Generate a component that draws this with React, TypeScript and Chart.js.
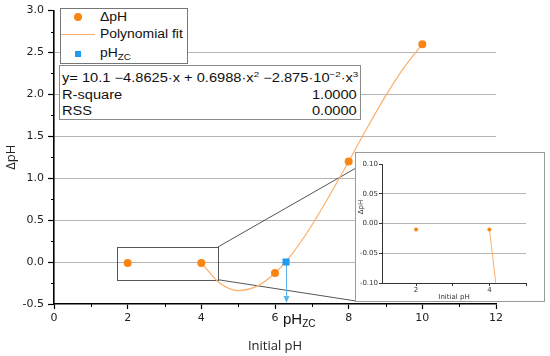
import React, { useEffect, useRef } from 'react';
import { Chart, registerables } from 'chart.js';

Chart.register(...registerables);

// ---- data ----
const initialPH = [2, 4, 6, 8, 10];
const deltaPH = [-0.01, -0.01, -0.13, 1.2, 2.6];
const fitX = [4, 4.5, 5, 5.5, 6, 6.5, 7, 7.5, 8, 8.5, 9, 9.5, 10];
const fitY = [-0.01, -0.25, -0.34, -0.29, -0.13, 0.12, 0.44, 0.81, 1.2, 1.6, 1.98, 2.32, 2.6];
const pHzcX = [6.3];
const pHzcY = [0];

const xMinorTicks = [1, 3, 5, 7, 9, 11];
const yMinorTicks = [-0.25, 0.25, 0.75, 1.25, 1.75, 2.25, 2.75];
const insetXTicks = [2, 3, 4, 5];
const insetXLabels = [2, 4];

const zoomBoxX = [1.7, 4.45];
const zoomBoxY = [-0.21, 0.18];

const legendLabels = ['ΔpH', 'Polynomial fit', 'pH'];
const eqStatLabels = ['R-square', 'RSS'];
const eqStatValues = ['1.0000', '0.0000'];

// ---- styles ----
const ORANGE = '#f98515';
const FIT = '#fbb06c';
const BLUE = '#1f9cf0';
const ARROW = '#5db6f0';
const GRID = '#b5b5b5';
const INSET = { left: 355, top: 152, width: 190, height: 150 };

const tickFont = { family: '"DejaVu Sans", Verdana, sans-serif', size: 11 };
const titleFont = { family: '"Open Sans", "DejaVu Sans", sans-serif', size: 13 };
const smallFont = { family: '"DejaVu Sans", Verdana, sans-serif', size: 7 };

const pts = (xs: number[], ys: number[]) => xs.map((x, i) => ({ x, y: ys[i] }));

const minorTicksPlugin = (xs: number[], ys: number[], len: number, color: string) => ({
  id: 'minorTicks',
  afterDraw(chart: any) {
    const { ctx, chartArea, scales } = chart;
    ctx.save();
    ctx.strokeStyle = color;
    ctx.lineWidth = 1;
    ctx.beginPath();
    xs.forEach((v) => {
      const px = Math.round(scales.x.getPixelForValue(v)) + 0.5;
      ctx.moveTo(px, chartArea.bottom);
      ctx.lineTo(px, chartArea.bottom + len);
    });
    ys.forEach((v) => {
      const py = Math.round(scales.y.getPixelForValue(v)) + 0.5;
      ctx.moveTo(chartArea.left - len, py);
      ctx.lineTo(chartArea.left, py);
    });
    ctx.stroke();
    ctx.restore();
  },
});

const mainOverlay = {
  id: 'mainOverlay',
  beforeDatasetsDraw(chart: any) {
    const { ctx, chartArea, scales } = chart;
    const x0 = scales.x.getPixelForValue(zoomBoxX[0]);
    const x1 = scales.x.getPixelForValue(zoomBoxX[1]);
    const yT = scales.y.getPixelForValue(zoomBoxY[1]);
    const yB = scales.y.getPixelForValue(zoomBoxY[0]);
    ctx.save();
    ctx.strokeStyle = '#555';
    ctx.lineWidth = 1;
    ctx.strokeRect(Math.round(x0) + 0.5, Math.round(yT) + 0.5, Math.round(x1 - x0), Math.round(yB - yT));
    ctx.beginPath();
    ctx.moveTo(x1, yT);
    ctx.lineTo(INSET.left + 1, INSET.top + 16);
    ctx.moveTo(x1, yB);
    ctx.lineTo(INSET.left + 1, INSET.top + INSET.height - 1);
    ctx.stroke();
    // arrow from pHzc to axis
    const ax = Math.round(scales.x.getPixelForValue(pHzcX[0])) + 0.5;
    const ay = scales.y.getPixelForValue(pHzcY[0]);
    const tip = chartArea.bottom - 1;
    ctx.strokeStyle = ARROW;
    ctx.fillStyle = ARROW;
    ctx.beginPath();
    ctx.moveTo(ax, ay);
    ctx.lineTo(ax, tip - 5);
    ctx.stroke();
    ctx.beginPath();
    ctx.moveTo(ax - 3, tip - 7);
    ctx.lineTo(ax + 3, tip - 7);
    ctx.lineTo(ax, tip);
    ctx.closePath();
    ctx.fill();
    ctx.restore();
  },
};

const insetOverlay = {
  id: 'insetOverlay',
  afterDraw(chart: any) {
    const { ctx } = chart;
    ctx.save();
    ctx.translate(5, 54);
    ctx.rotate(-Math.PI / 2);
    ctx.font = `7px ${smallFont.family}`;
    ctx.fillStyle = '#333';
    ctx.textAlign = 'center';
    ctx.textBaseline = 'middle';
    ctx.fillText('ΔpH', 0, 0);
    ctx.restore();
  },
};

export default function App() {
  const mainRef = useRef<HTMLCanvasElement>(null);
  const insetRef = useRef<HTMLCanvasElement>(null);

  useEffect(() => {
    const main = new Chart(mainRef.current as HTMLCanvasElement, {
      type: 'scatter',
      data: {
        datasets: [
          {
            label: legendLabels[1],
            data: pts(fitX, fitY),
            showLine: true,
            borderColor: FIT,
            borderWidth: 1.2,
            pointRadius: 0,
            cubicInterpolationMode: 'monotone',
            order: 3,
          } as any,
          {
            label: legendLabels[0],
            data: pts(initialPH, deltaPH),
            pointRadius: 4,
            backgroundColor: ORANGE,
            borderColor: ORANGE,
            borderWidth: 0,
            order: 1,
          },
          {
            label: legendLabels[2],
            data: pts(pHzcX, pHzcY),
            pointStyle: 'rect',
            pointRadius: 5,
            backgroundColor: BLUE,
            borderColor: BLUE,
            borderWidth: 0,
            order: 0,
          },
        ],
      },
      options: {
        responsive: false,
        animation: false,
        layout: { padding: { top: 10, right: 54, left: 0, bottom: 0 } },
        plugins: { legend: { display: false }, tooltip: { enabled: false } },
        scales: {
          x: {
            type: 'linear',
            min: 0,
            max: 12,
            afterFit: (s: any) => { s.height = 52; },
            ticks: { stepSize: 2, font: tickFont, color: '#222', padding: 3 },
            grid: { drawOnChartArea: false, tickLength: 5, tickColor: '#000', tickWidth: 1.2 },
            border: { color: '#000', width: 1.6 },
            title: { display: true, text: 'Initial pH', font: titleFont, color: '#222', padding: { top: 0, bottom: 2 } },
          },
          y: {
            type: 'linear',
            min: -0.5,
            max: 3,
            afterFit: (s: any) => { s.width = 54; },
            ticks: { stepSize: 0.5, font: tickFont, color: '#222', padding: 4, callback: (v: any) => Number(v).toFixed(1) },
            grid: {
              color: (c: any) => (c.tick && c.tick.value > -0.4 && c.tick.value < 2.9 ? GRID : 'rgba(0,0,0,0)'),
              lineWidth: 1,
              tickLength: 6,
              tickColor: '#000',
              tickWidth: 1.2,
            },
            border: { color: '#000', width: 1.6 },
            title: { display: true, text: 'ΔpH', font: titleFont, color: '#222', padding: { top: 3, bottom: 0 } },
          },
        },
      },
      plugins: [mainOverlay, minorTicksPlugin(xMinorTicks, yMinorTicks, 3, '#000')],
    });

    const inset = new Chart(insetRef.current as HTMLCanvasElement, {
      type: 'scatter',
      data: {
        datasets: [
          {
            label: legendLabels[1],
            data: pts(fitX, fitY),
            showLine: true,
            borderColor: FIT,
            borderWidth: 1,
            pointRadius: 0,
            cubicInterpolationMode: 'monotone',
            order: 2,
          } as any,
          {
            label: legendLabels[0],
            data: pts(initialPH, deltaPH),
            pointRadius: 2,
            backgroundColor: ORANGE,
            borderColor: ORANGE,
            borderWidth: 0,
            order: 1,
          },
        ],
      },
      options: {
        responsive: false,
        animation: false,
        layout: { padding: { top: 11, right: 18, left: 0, bottom: 0 } },
        plugins: { legend: { display: false }, tooltip: { enabled: false } },
        scales: {
          x: {
            type: 'linear',
            min: 1.07,
            max: 5,
            afterFit: (s: any) => { s.height = 18; },
            afterBuildTicks: (s: any) => { s.ticks = insetXTicks.map((v) => ({ value: v })); },
            ticks: {
              font: smallFont,
              color: '#333',
              padding: 0,
              autoSkip: false,
              maxRotation: 0,
              callback: (v: any) => (insetXLabels.includes(Number(v)) ? String(v) : ''),
            },
            grid: { drawOnChartArea: false, tickLength: 3, tickColor: '#333' },
            border: { color: '#333', width: 1 },
            title: { display: true, text: 'Initial pH', font: smallFont, color: '#333', padding: { top: 0, bottom: 0 } },
          },
          y: {
            type: 'linear',
            min: -0.1,
            max: 0.1,
            afterFit: (s: any) => { s.width = 26; },
            ticks: { stepSize: 0.05, font: smallFont, color: '#333', padding: 1, callback: (v: any) => Number(v).toFixed(2) },
            grid: {
              color: (c: any) => (c.tick && Math.abs(c.tick.value) < 0.09 ? GRID : 'rgba(0,0,0,0)'),
              tickLength: 3,
              tickColor: '#333',
            },
            border: { color: '#333', width: 1 },
          },
        },
      },
      plugins: [insetOverlay],
    });

    return () => {
      main.destroy();
      inset.destroy();
    };
  }, []);

  const legendText: React.CSSProperties = {
    position: 'absolute',
    left: 39,
    font: '12px "Liberation Sans", Arial, sans-serif',
    lineHeight: '14px',
    color: '#111',
    whiteSpace: 'nowrap',
    transform: 'scaleX(1.16)',
    transformOrigin: 'left center',
  };
  const eqText: React.CSSProperties = {
    position: 'absolute',
    font: '12px "Liberation Sans", Arial, sans-serif',
    lineHeight: '14px',
    color: '#111',
    whiteSpace: 'nowrap',
    transform: 'scaleX(1.22)',
  };
  const sup: React.CSSProperties = { fontSize: '8px', verticalAlign: '5px', lineHeight: 0 };

  return (
    <div style={{ position: 'absolute', left: 0, top: 0, width: 550, height: 356, background: '#fff', overflow: 'hidden' }}>
      <canvas ref={mainRef} width={550} height={356} style={{ position: 'absolute', left: 0, top: 0, width: 550, height: 356 }} />

      {/* legend */}
      <div style={{ position: 'absolute', left: 60, top: 8, width: 126, height: 54, border: '1px solid #777', background: '#fff' }}>
        <div style={{ position: 'absolute', left: 13, top: 4, width: 8, height: 8, borderRadius: '50%', background: ORANGE }} />
        <div style={{ ...legendText, top: 1 }}>{legendLabels[0]}</div>
        <div style={{ position: 'absolute', left: 0, top: 25, width: 34, height: 1.2, background: FIT }} />
        <div style={{ ...legendText, top: 18 }}>{legendLabels[1]}</div>
        <div style={{ position: 'absolute', left: 14, top: 42, width: 6, height: 6, background: BLUE }} />
        <div style={{ ...legendText, top: 37 }}>
          {legendLabels[2]}
          <sub style={{ fontSize: '8.5px', verticalAlign: '-3px', lineHeight: 0 }}>ZC</sub>
        </div>
      </div>

      {/* equation box */}
      <div style={{ position: 'absolute', left: 59, top: 65, width: 300, height: 53, border: '1.5px solid #8a8a8a', background: '#fff' }}>
        <div style={{ ...eqText, left: 2, top: 4.5, transformOrigin: 'left center' }}>
          y= 10.1 −4.8625·x + 0.6988·x<sup style={sup}>2</sup> −2.875·10<sup style={sup}>−2</sup>·x<sup style={sup}>3</sup>
        </div>
        <div style={{ ...eqText, left: 2, top: 21.5, transformOrigin: 'left center' }}>{eqStatLabels[0]}</div>
        <div style={{ ...eqText, right: 3, top: 21.5, transformOrigin: 'right center' }}>{eqStatValues[0]}</div>
        <div style={{ ...eqText, left: 2, top: 37.5, transformOrigin: 'left center' }}>{eqStatLabels[1]}</div>
        <div style={{ ...eqText, right: 3, top: 37.5, transformOrigin: 'right center' }}>{eqStatValues[1]}</div>
      </div>

      {/* pHzc label below axis */}
      <div style={{ position: 'absolute', left: 283, top: 311, font: '15px "Liberation Sans", Arial, sans-serif', lineHeight: '15px', color: '#111', whiteSpace: 'nowrap' }}>
        pH<sub style={{ fontSize: '10px', verticalAlign: '-3px', lineHeight: 0 }}>ZC</sub>
      </div>

      {/* inset */}
      <div style={{ position: 'absolute', left: INSET.left, top: INSET.top, width: INSET.width - 2, height: INSET.height - 2, border: '1px solid #9a9a9a', background: '#fff' }}>
        <canvas ref={insetRef} width={188} height={148} style={{ position: 'absolute', left: 0, top: 0, width: 188, height: 148 }} />
      </div>
    </div>
  );
}
